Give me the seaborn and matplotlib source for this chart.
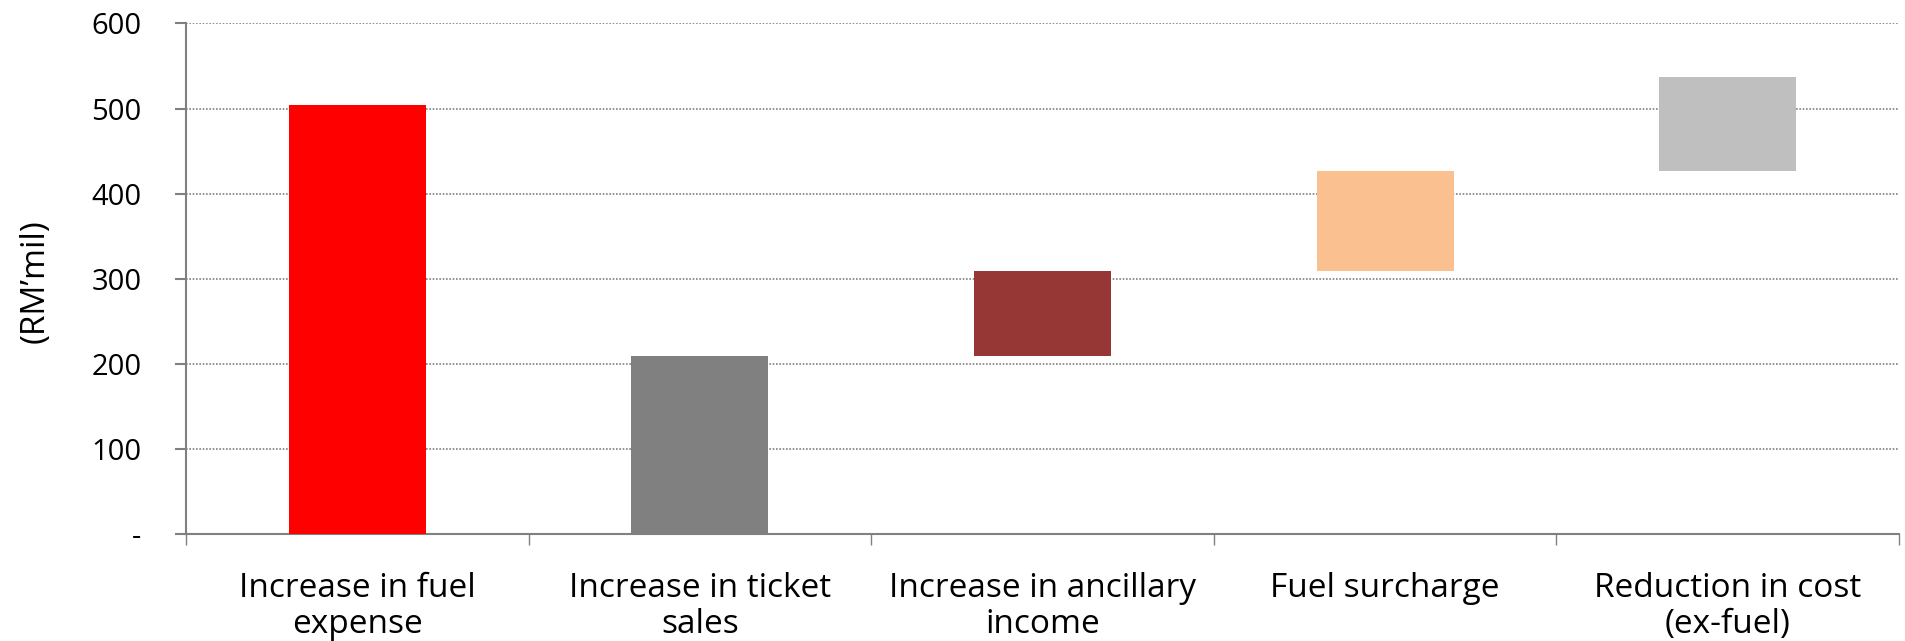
import matplotlib
matplotlib.use("Agg")
import matplotlib.pyplot as plt
import seaborn as sns
import pandas as pd
from matplotlib.ticker import FixedLocator

# Waterfall components (RM'mil)
categories = [
    "Increase in fuel\nexpense",
    "Increase in ticket\nsales",
    "Increase in ancillary\nincome",
    "Fuel surcharge",
    "Reduction in cost\n(ex-fuel)",
]
changes = [504, 210, 99, 118, 110]
bases = [0, 0, 210, 309, 427]
bar_colors = ["#FF0000", "#808080", "#963735", "#FAC090", "#BFBFBF"]
y_ticks = [0, 100, 200, 300, 400, 500, 600]
y_tick_labels = ["-", "100", "200", "300", "400", "500", "600"]
y_label = "(RM\u2019mil)"

sns.set_style("white")
plt.rcParams["font.family"] = ["Open Sans", "DejaVu Sans"]

axis_grey = "#808080"

fig = plt.figure(figsize=(19.06, 6.41), dpi=100)
ax = fig.add_axes([0.0976, 0.1662, 0.8987, 0.7972])

df = pd.DataFrame({"category": categories, "change": changes, "base": bases})
sns.barplot(
    data=df, x="category", y="change", order=categories,
    bottom=df["base"].to_numpy(), width=0.4, color=bar_colors[0],
    errorbar=None, linewidth=0, ax=ax, zorder=3,
)
for patch, c in zip(ax.patches, bar_colors):
    patch.set_facecolor(c)
    patch.set_edgecolor(c)

ax.set_xlim(-0.5, len(categories) - 0.5)
ax.set_ylim(0, 600)

# y axis
ax.yaxis.set_major_locator(FixedLocator(y_ticks))
ax.set_yticklabels(y_tick_labels)
ax.tick_params(axis="y", which="major", direction="out", length=8, width=1.5,
               color=axis_grey, pad=24, labelsize=21, labelcolor="black", left=True)

# x axis: labels at bar centres, tick marks at category boundaries
ax.set_xticks(range(len(categories)))
ax.set_xticklabels(categories, linespacing=1.12)
ax.set_xticks([i - 0.5 for i in range(len(categories) + 1)], minor=True)
ax.tick_params(axis="x", which="major", length=0, pad=27, labelsize=24, labelcolor="black")
ax.tick_params(axis="x", which="minor", direction="out", length=8, width=1,
               color=axis_grey, bottom=True)

ax.set_xlabel("")
ax.set_ylabel(y_label, fontsize=24, color="black")
ax.yaxis.label.set_verticalalignment("center")
ax.yaxis.set_label_coords(-0.088, 0.495)

# dotted horizontal gridlines
ax.yaxis.grid(True, linestyle=(0, (1, 1)), color=axis_grey, linewidth=1.2, zorder=0)
ax.xaxis.grid(False)
ax.set_axisbelow(True)

for side in ["top", "right"]:
    ax.spines[side].set_visible(False)
for side in ["left", "bottom"]:
    ax.spines[side].set_color(axis_grey)
    ax.spines[side].set_linewidth(1.5)

fig.savefig("out.png", dpi=100)
